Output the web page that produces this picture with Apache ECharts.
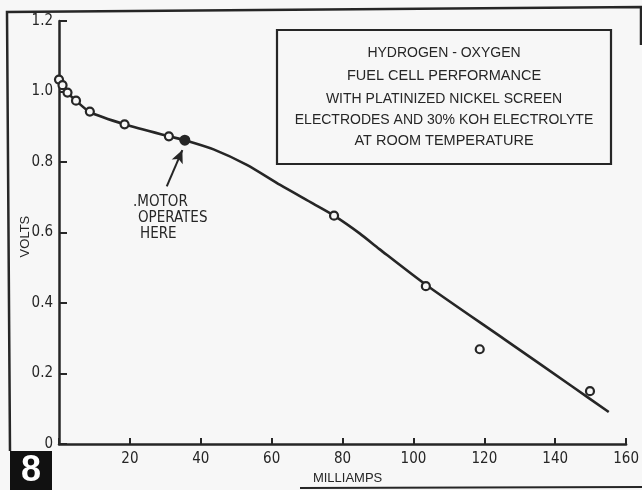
<!DOCTYPE html>
<html>
<head>
<meta charset="utf-8">
<style>
  html, body { margin: 0; padding: 0; background: #f7f7f7; }
  #chart { width: 642px; height: 490px; }
</style>
<script src="https://cdn.jsdelivr.net/npm/echarts@6/dist/echarts.min.js"></script>
</head>
<body>
<div id="chart"></div>
<script>
// fitted curve (milliamps -> volts)
const curveMilliamps = [0, 1, 2.4, 4.8, 8.7, 18.5, 31, 35.5, 43.6, 53, 62.4, 71.7, 77.6, 84.9, 90.4, 103.5, 126, 144.7, 155.1];
const curveVolts = [1.034, 1.018, 0.997, 0.974, 0.942, 0.907, 0.873, 0.862, 0.836, 0.792, 0.735, 0.682, 0.648, 0.597, 0.553, 0.452, 0.295, 0.164, 0.091];
// measured points (open circles)
const pointMilliamps = [0, 1, 2.4, 4.8, 8.7, 18.5, 31, 77.6, 103.5, 118.7, 149.8];
const pointVolts = [1.034, 1.018, 0.997, 0.974, 0.943, 0.907, 0.873, 0.648, 0.448, 0.269, 0.15];
// operating point (filled)
const motorPoint = [35.5, 0.862];
// arrow from the label to the operating point
const arrowFrom = [30.4, 0.731];
const arrowTo = [34.8, 0.834];

const boxLines = [
  "HYDROGEN - OXYGEN",
  "FUEL CELL PERFORMANCE",
  "WITH PLATINIZED NICKEL SCREEN",
  "ELECTRODES AND 30% KOH ELECTROLYTE",
  "AT ROOM TEMPERATURE",
];
const motorLines = [".MOTOR", "OPERATES", "HERE"];

const ink = "#262626";
const paper = "#f7f7f7";
const narrow = "'Liberation Sans Narrow', 'DejaVu Sans Condensed', sans-serif";
const plain = "'Liberation Sans', Arial, sans-serif";

const chart = echarts.init(document.getElementById("chart"));

// text of the box, one graphic text per line
const boxY = [53, 76, 99, 120, 141];
const boxSize = [14, 14.5, 14, 14, 14.5];
const boxTexts = boxLines.map((t, i) => ({
  type: "text",
  x: 444,
  y: boxY[i],
  style: {
    text: t, fill: ink, font: `${boxSize[i]}px ${plain}`,
    align: "center", verticalAlign: "middle",
  },
}));

const motorX = [133, 138, 140];
const motorY = [202, 218, 234];
const motorTexts = motorLines.map((t, i) => ({
  type: "text",
  x: motorX[i],
  y: motorY[i],
  style: {
    text: t, fill: ink, font: `15px ${narrow}`,
    align: "left", verticalAlign: "middle",
  },
}));

const option = {
  backgroundColor: paper,
  animation: false,
  grid: { left: 59, right: 15, top: 21, bottom: 42 },
  xAxis: {
    type: "value",
    min: 0,
    max: 160,
    interval: 20,
    name: "MILLIAMPS",
    nameLocation: "middle",
    nameGap: 24,
    nameTextStyle: { color: ink, fontFamily: plain, fontSize: 13, padding: [0, 0, 0, 10] },
    axisLine: { show: true, onZero: false, lineStyle: { color: ink, width: 2.5 } },
    axisTick: { show: true, inside: true, length: 6, lineStyle: { color: ink, width: 2 } },
    axisLabel: {
      color: ink, fontFamily: narrow, fontSize: 15, margin: 8,
      formatter: (v) => (v === 0 ? "" : String(v)),
    },
    splitLine: { show: false },
  },
  yAxis: {
    type: "value",
    min: 0,
    max: 1.2,
    interval: 0.2,
    name: "VOLTS",
    nameLocation: "middle",
    nameRotate: 90,
    nameGap: 27,
    nameMoveOverlap: false,
    nameTextStyle: { color: ink, fontFamily: plain, fontSize: 13, padding: [0, 8, 0, 0] },
    axisLine: { show: true, onZero: false, lineStyle: { color: ink, width: 2.5 } },
    axisTick: { show: true, inside: true, length: 8, lineStyle: { color: ink, width: 2 } },
    axisLabel: {
      color: ink, fontFamily: narrow, fontSize: 15, margin: 6,
      formatter: (v) => (v === 0 ? "0" : v.toFixed(1)),
    },
    splitLine: { show: false },
  },
  series: [
    {
      name: "curve",
      type: "line",
      data: curveMilliamps.map((m, i) => [m, curveVolts[i]]),
      smooth: 0.25,
      showSymbol: false,
      clip: false,
      lineStyle: { color: ink, width: 2.6 },
      z: 2,
    },
    {
      name: "measured",
      type: "scatter",
      data: pointMilliamps.map((m, i) => [m, pointVolts[i]]),
      symbol: "circle",
      symbolSize: 8,
      clip: false,
      itemStyle: { color: paper, borderColor: ink, borderWidth: 2.2, opacity: 1 },
      z: 3,
    },
    {
      name: "motor",
      type: "scatter",
      data: [motorPoint],
      symbolSize: 11,
      itemStyle: { color: ink, opacity: 1 },
      z: 4,
      markLine: {
        silent: true,
        symbol: ["none", "arrow"],
        symbolSize: [9, 13],
        label: { show: false },
        lineStyle: { color: ink, width: 2, type: "solid" },
        data: [[{ coord: arrowFrom }, { coord: arrowTo }]],
      },
    },
  ],
  graphic: [
    // outer frame of the figure
    {
      type: "polyline",
      shape: { points: [[641, 45], [641, 7], [7, 12], [10, 451]] },
      style: { stroke: ink, lineWidth: 2.5, fill: null },
    },
    {
      type: "line",
      shape: { x1: 300, y1: 488, x2: 642, y2: 487 },
      style: { stroke: ink, lineWidth: 2 },
    },
    // figure number
    {
      type: "rect",
      shape: { x: 10, y: 451, width: 42, height: 39 },
      style: { fill: "#111" },
    },
    {
      type: "text",
      x: 31,
      y: 471,
      style: {
        text: "8", fill: "#fff", font: `bold 36px ${plain}`,
        align: "center", verticalAlign: "middle",
      },
    },
    // caption box
    {
      type: "rect",
      shape: { x: 277, y: 30, width: 334, height: 134 },
      style: { fill: null, stroke: ink, lineWidth: 2.2 },
    },
    ...boxTexts,
    ...motorTexts,
  ],
};

chart.setOption(option);
</script>
</body>
</html>
